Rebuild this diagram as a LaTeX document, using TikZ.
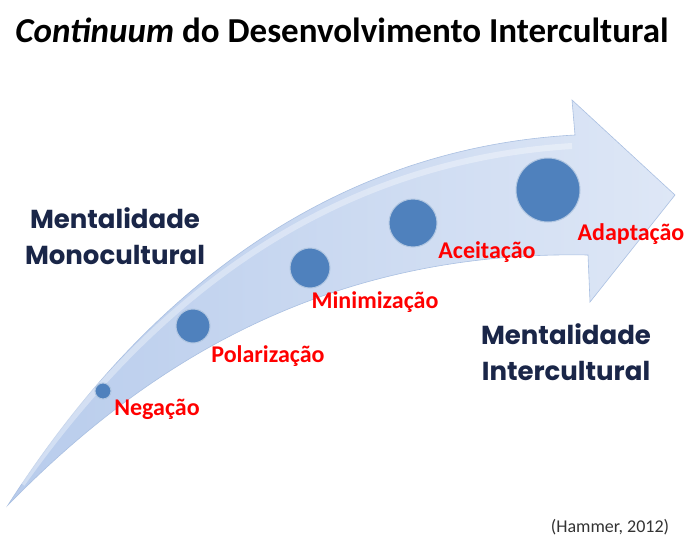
\documentclass[tikz,border=0pt]{standalone}
\usepackage{fontspec}
\setmainfont{Carlito}
\newfontfamily\roundfont{Poppins}
\usetikzlibrary{positioning}

\definecolor{stageblue}{RGB}{79,129,189}
\definecolor{shaftdeep}{RGB}{184,204,236}
\definecolor{shaftpale}{RGB}{222,231,246}
\definecolor{shaftedge}{RGB}{170,192,226}
\definecolor{mindnavy}{RGB}{26,38,72}
\definecolor{stagered}{RGB}{255,0,0}

\begin{document}
\begin{tikzpicture}[x=1pt,y=-1pt]
   \tikzstyle{stage}=[circle, fill=stageblue, draw=stageblue!45!white, line width=1pt, inner sep=0pt]
   \tikzstyle{stagename}=[text=stagered, font=\bfseries\fontsize{24}{28}\selectfont, inner sep=0pt]
   \tikzstyle{mindset}=[text=mindnavy, align=center, font=\roundfont\bfseries\fontsize{26}{36}\selectfont, inner sep=0pt]

\useasboundingbox (0,0) rectangle (685,541);
\fill[white] (0,0) rectangle (685,541);

% the curved arrow
\shade[left color=shaftdeep, right color=shaftpale, draw=shaftedge, line width=0.6pt]
    (8,505) .. controls (120,330) and (300,150) .. (575,135) -- (572,100) -- (675,195)
    -- (590,302) -- (588,255) .. controls (320,250) and (140,370) .. (8,505) -- cycle;
\draw[white, line width=6pt, opacity=0.35] (22,484) .. controls (130,332) and (300,163) .. (572,146);

% stages
\node[stage, minimum size=16] (neg) at (103,391) {};
\node[stage, minimum size=34] (pol) at (193,326) {};
\node[stage, minimum size=40] (min) at (310,268) {};
\node[stage, minimum size=48] (ace) at (413,223) {};
\node[stage, minimum size=64] (ada) at (548,190) {};

\node[stagename] (negname) at (157,409) {Negação};
\node[stagename] (polname) at (268,356) {Polarização};
\node[stagename] (minname) at (375,302) {Minimização};
\node[stagename] (acename) at (487,252) {Aceitação};
\node[stagename] (adaname) at (631,234) {Adaptação};

% mindsets
\node[mindset] (mono) at (115,236) {Mentalidade\\Monocultural};
\node[mindset] (inter) at (566,352) {Mentalidade\\Intercultural};

\node[font=\bfseries\fontsize{35}{40}\selectfont, inner sep=0pt, anchor=base] (title) at (342,42)
    {\textit{Continuum} do Desenvolvimento Intercultural};
\node[font=\fontsize{18}{20}\selectfont, text=black!80, inner sep=0pt] (source) at (610,527) {(Hammer, 2012)};

\end{tikzpicture}
\end{document}
